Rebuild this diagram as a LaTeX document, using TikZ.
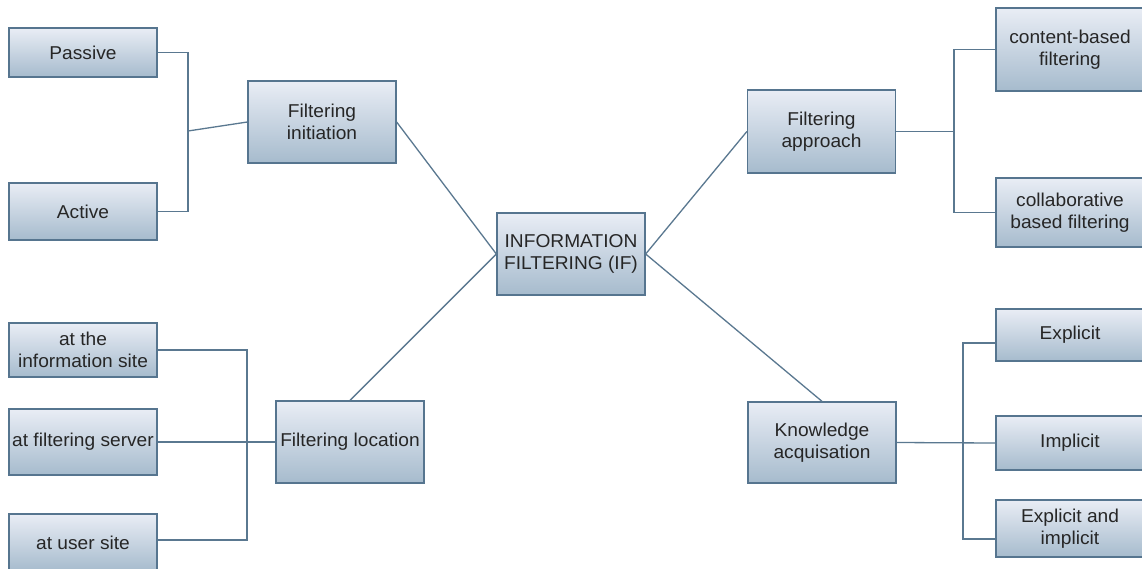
\documentclass[tikz,border=0pt]{standalone}
\usepackage{fontspec}
\setmainfont{Liberation Sans}[FakeStretch=1.03]
\usetikzlibrary{calc}
\definecolor{boxtop}{HTML}{E9EDF5}
\definecolor{boxbot}{HTML}{A6BBCD}
\definecolor{boxedge}{HTML}{56758F}
\definecolor{wire}{HTML}{5A7890}
\definecolor{ink}{HTML}{262626}
\tikzset{
  cell/.style args={#1x#2}{draw=boxedge, line width=1.3pt, top color=boxtop, bottom color=boxbot,
    minimum width=#1pt, minimum height=#2pt, inner sep=0pt, align=center,
    text=ink, font=\fontsize{18.6}{22}\selectfont},
  link/.style={draw=wire, line width=1.3pt}
}
\begin{document}
\begin{tikzpicture}[x=1pt, y=-1pt]
\clip (0,0) rectangle (1142,568);
\fill[white] (0,0) rectangle (1142,568);

% central node
\node[cell=148x82] (if) at (571,254) {INFORMATION\\FILTERING (IF)};

% filtering initiation branch
\node[cell=148x82] (init) at (322,122) {Filtering\\initiation};
\node[cell=148x49] (passive) at (83,52.5) {Passive};
\node[cell=148x57] (active) at (83,211.5) {Active};

% filtering location branch
\node[cell=148x82] (loc) at (350,442) {Filtering location};
\node[cell=148x54] (info) at (83,350) {at the\\information site};
\node[cell=148x66] (server) at (83,442) {at filtering server};
\node[cell=148x57] (user) at (83,542.5) {at user site};

% filtering approach branch
\node[cell=148x83] (appr) at (821.5,131.5) {Filtering\\approach};
\node[cell=148x83] (content) at (1070,49.5) {content-based\\filtering};
\node[cell=148x69] (collab) at (1070,212.5) {collaborative\\based filtering};

% knowledge acquisition branch
\node[cell=148x81] (know) at (822,442.5) {Knowledge\\acquisation};
\node[cell=148x52] (expl) at (1070,335) {Explicit};
\node[cell=148x54] (impl) at (1070,443) {Implicit};
\node[cell=148x57] (both) at (1070,528.5) {Explicit and\\implicit};

% spokes from the centre
\draw[link] (init.east) -- (if.west);
\draw[link] (loc.north) -- (if.west);
\draw[link] (appr.west) -- (if.east);
\draw[link] (know.north) -- (if.east);

% bus junctions
\coordinate (b1) at (188,131);
\coordinate (b2) at (247,442);
\coordinate (b3) at (954,131.5);
\coordinate (b4) at (963,443);

\draw[link] (passive.east) -| (b1) |- (active.east);
\draw[link] (b1) -- (init.west);

\draw[link] (info.east) -| (b2) |- ($(user.east)+(0,-2.5)$);
\draw[link] (server.east) -- (loc.west);

\draw[link] (content.west) -| (b3) |- (collab.west);
\draw[link] (appr.east) -- (b3);

\draw[link] ($(expl.west)+(0,8)$) -| (b4) |- ($(both.west)+(0,10.5)$);
\draw[link] (know.east) -- (impl.west);
\end{tikzpicture}
\end{document}
